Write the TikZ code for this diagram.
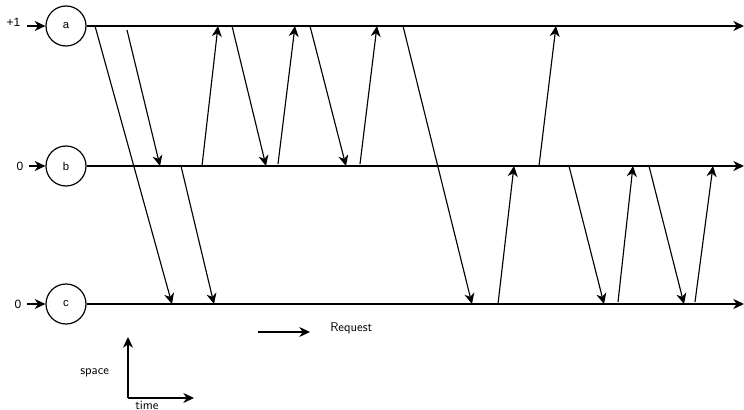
\documentclass[tikz,border=0pt]{standalone}
\usepackage{fontspec}
\newfontfamily\helv{Liberation Sans}
\usetikzlibrary{arrows.meta}
\begin{document}
\begin{tikzpicture}[x=0.75pt,y=-0.75pt,
  proc/.style={draw,line width=0.9pt,circle,minimum size=30pt,inner sep=0pt,font=\helv\fontsize{8.5}{9}\selectfont},
  tl/.style={line width=1.1pt,-{Stealth[length=8pt,width=7.5pt,inset=2.5pt]}},
  msg/.style={line width=0.85pt,-{Stealth[length=8pt,width=7.5pt,inset=2.5pt]}},
  lbl/.style={font=\helv\fontsize{9}{10}\selectfont,inner sep=0pt},
  leg/.style={font=\sffamily\fontsize{9.5}{10}\selectfont,inner sep=0pt}]
\useasboundingbox (0,0) rectangle (744,410);
% processes
\node[proc] (a) at (66,26) {a};
\node[proc] (b) at (66,166) {b};
\node[proc] (c) at (66,304) {c};
\coordinate (aend) at (744,26);
\coordinate (bend) at (744,166);
\coordinate (cend) at (744,304);
\draw[tl] (a.east) -- (aend);
\draw[tl] (b.east) -- (bend);
\draw[tl] (c.east) -- (cend);
% initial values
\node[lbl] (la) at (13.5,22) {+1};
\node[lbl] (lb) at (20,166) {0};
\node[lbl] (lc) at (18,304) {0};
\coordinate (ia) at (27,26);
\coordinate (ib) at (29,166);
\coordinate (ic) at (27,304);
\draw[msg] (ia) -- (a.west);
\draw[msg] (ib) -- (b.west);
\draw[msg] (ic) -- (c.west);
% messages
\foreach \n/\xa/\ya/\xb/\yb in {
  m1/95/26/172/304,
  m2/127/30/160/166,
  m3/202/166/218/26,
  m4/181/166/214/304,
  m5/232/26/266/166,
  m6/278/164/295/26,
  m7/310/26/346/166,
  m8/360/164/377/26,
  m9/403/26/472/304,
  m10/498/304/514/166,
  m11/539/166/556/26,
  m12/569/166/604/304,
  m13/618/302/633/166,
  m14/649/166/684/304,
  m15/695/302/713/166}{
  \coordinate (\n s) at (\xa,\ya);
  \coordinate (\n e) at (\xb,\yb);
  \draw[msg] (\n s) -- (\n e);
}
% legend
\coordinate (rs) at (258,332);
\coordinate (re) at (310,332);
\draw[msg] (rs) -- (re);
\node[leg,anchor=west] (req) at (330,328) {Request};
\coordinate (o) at (128,398);
\coordinate (sp) at (128,337);
\coordinate (tm) at (194,398);
\draw[msg] (o) -- (sp);
\draw[msg] (o) -- (tm);
\node[leg,anchor=west] (space) at (80,373) {space};
\node[leg,anchor=west] (time) at (135,405) {time};
\end{tikzpicture}
\end{document}
